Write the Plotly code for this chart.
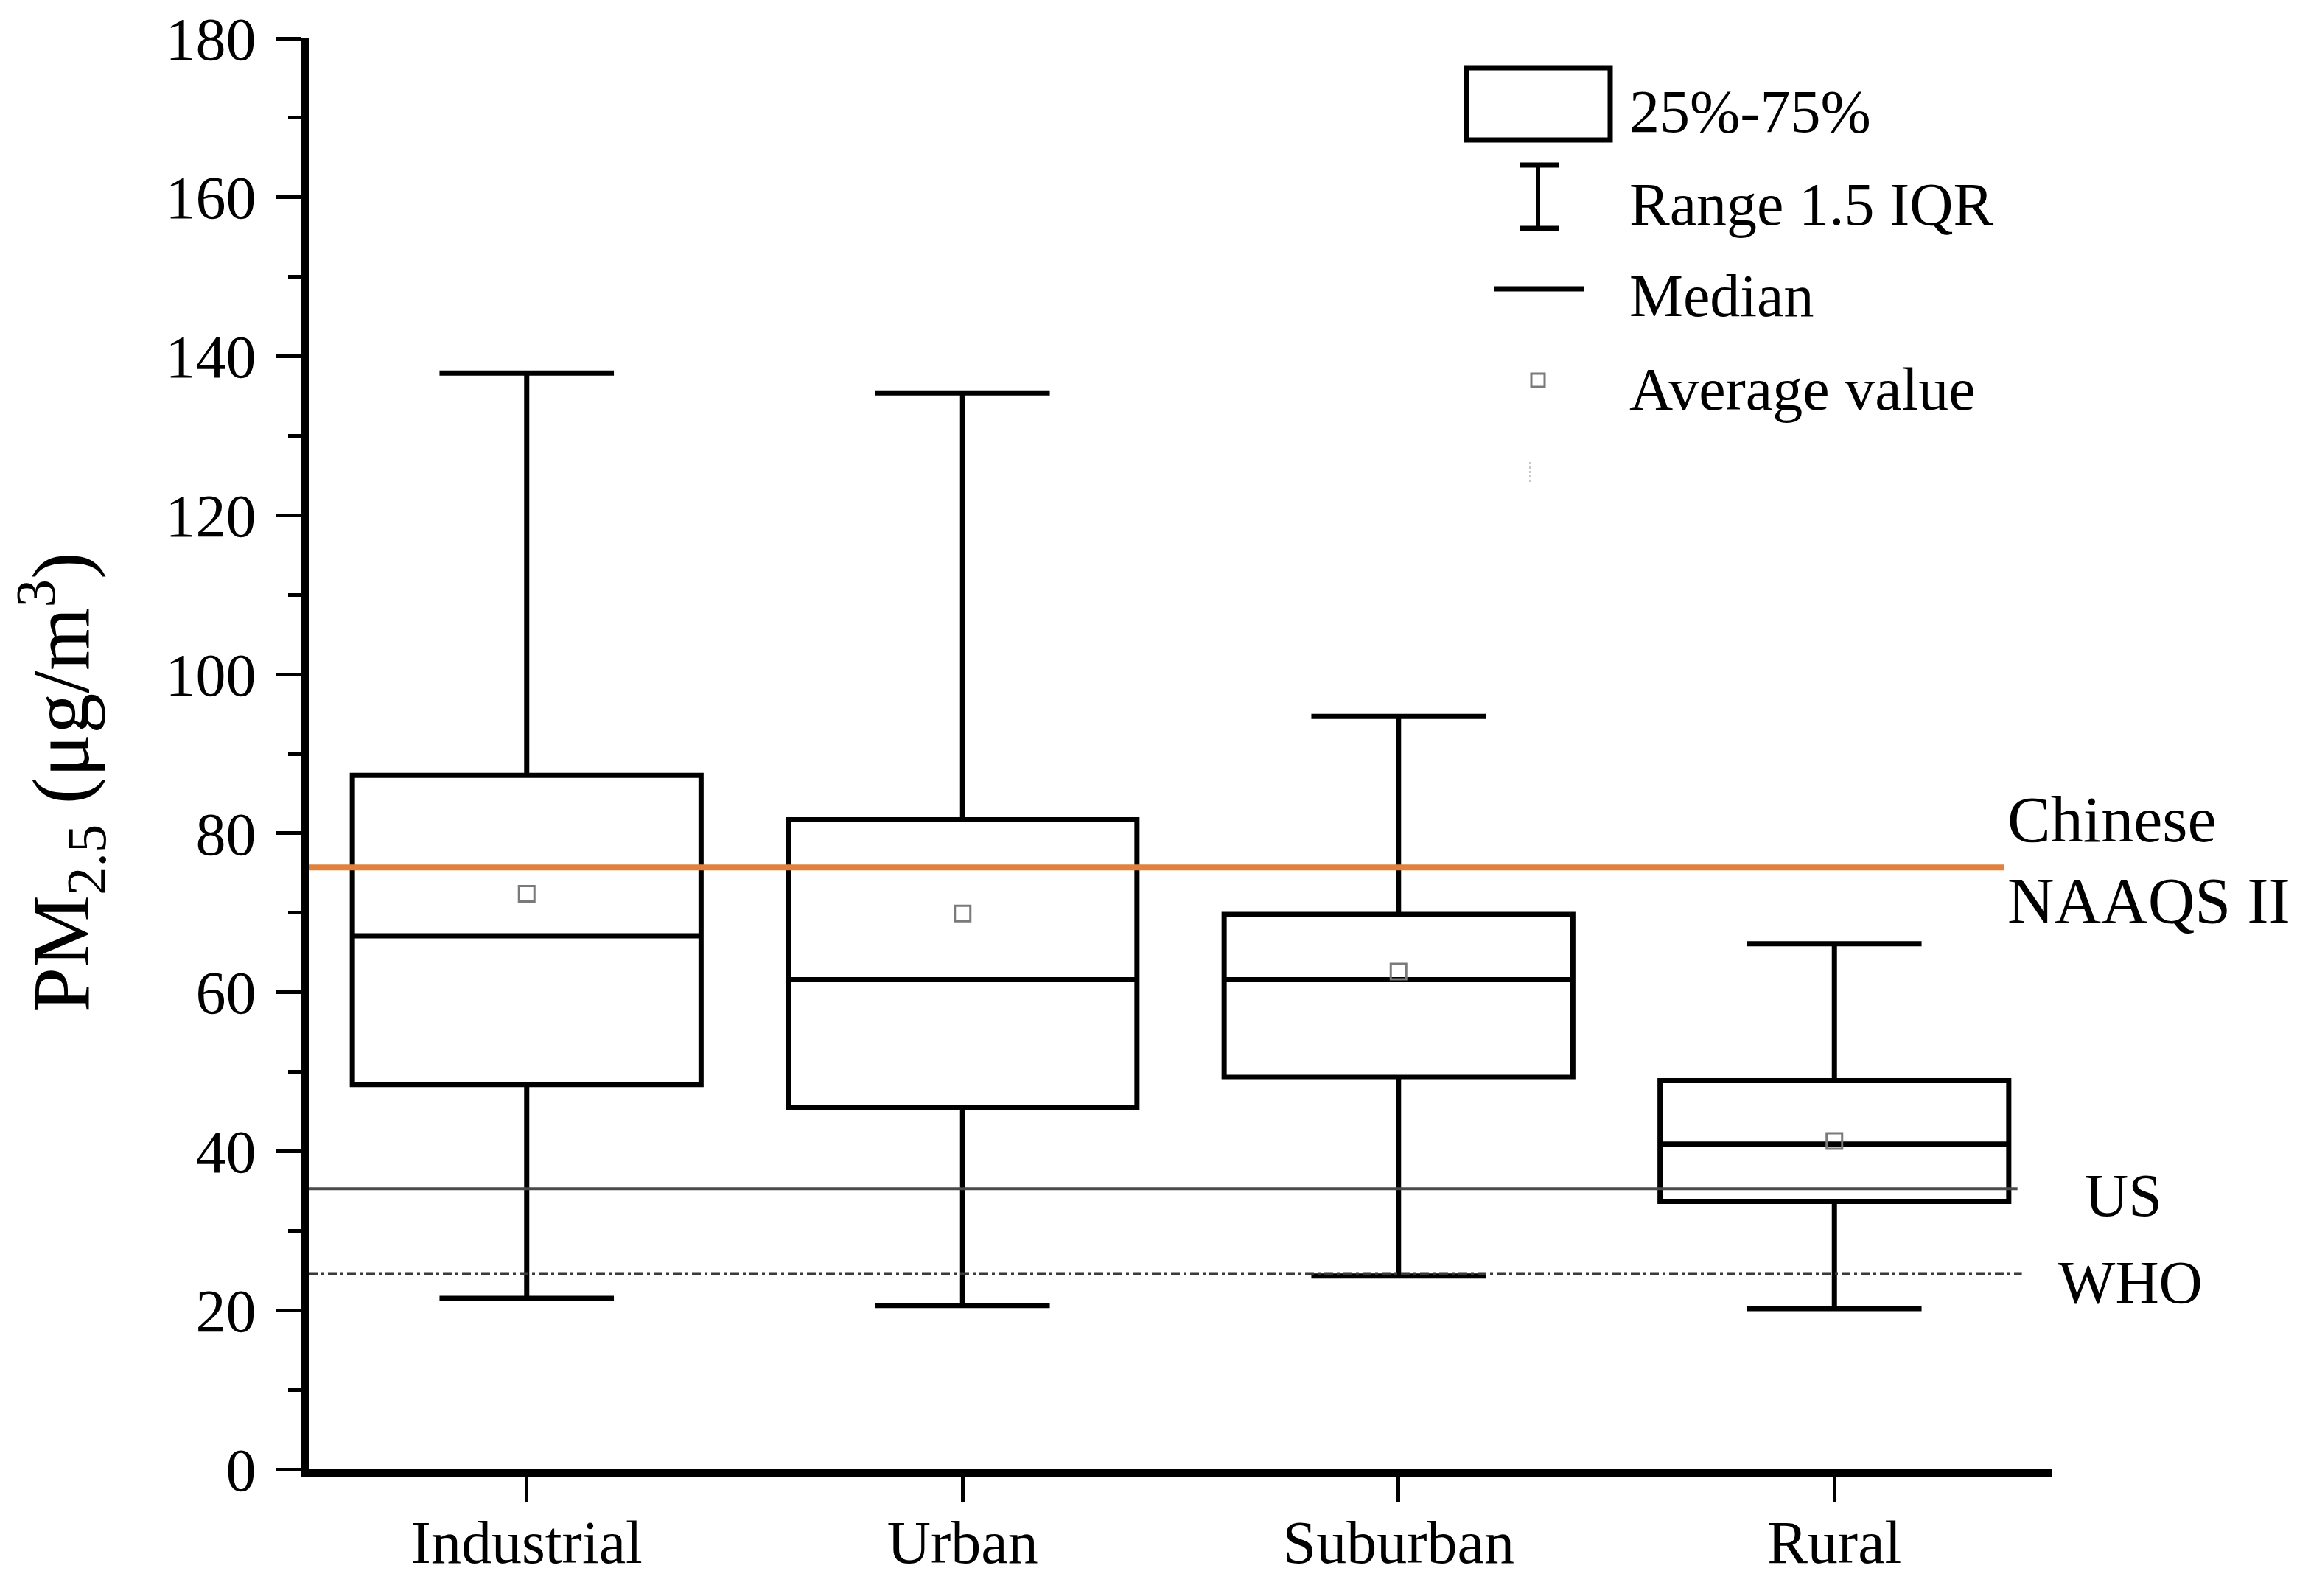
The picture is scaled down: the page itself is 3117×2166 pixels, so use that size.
import plotly.graph_objects as go

# ---------------- data ----------------
categories = ["Industrial", "Urban", "Suburban", "Rural"]
lower_whisker = [21.5, 20.6, 24.3, 20.2]
q1_values = [48.4, 45.5, 49.3, 33.7]
median_values = [67.1, 61.6, 61.6, 40.9]
mean_values = [72.4, 69.9, 62.6, 41.3]
q3_values = [87.3, 81.7, 69.8, 48.9]
upper_whisker = [137.9, 135.4, 94.7, 66.1]

chinese_naaqs_ii = 75.7
us_standard = 35.3
who_guideline = 24.6

y_tick_values = [0, 20, 40, 60, 80, 100, 120, 140, 160, 180]
legend_labels = ["25%-75%", "Range 1.5 IQR", "Median", "Average value"]

# ---------------- layout geometry ----------------
W, H = 3117, 2166
PL, PR, PT, PB = 411, 2777, 44, 1986
OFF = 12  # vertical offset observed in rendering
FONT = "Liberation Serif"


def px(X):
    return (X - PL) / (PR - PL)


def py(Y):
    return (PB - (Y - OFF)) / (PB - PT)


positions = list(range(len(categories)))

fig = go.Figure()

fig.add_trace(go.Box(
    x=positions,
    q1=q1_values,
    median=median_values,
    q3=q3_values,
    lowerfence=lower_whisker,
    upperfence=upper_whisker,
    width=0.8,
    whiskerwidth=0.5,
    boxpoints=False,
    line=dict(color="black", width=7),
    fillcolor="white",
    showlegend=False,
    hoverinfo="skip",
))

fig.add_trace(go.Scatter(
    x=positions,
    y=mean_values,
    mode="markers",
    marker=dict(symbol="square-open", size=21, color="#7a7a7a",
                line=dict(width=3, color="#7a7a7a")),
    showlegend=False,
    hoverinfo="skip",
))

shapes = []
# reference lines
shapes.append(dict(type="line", xref="x", yref="y", x0=-0.5, x1=3.39,
                   y0=chinese_naaqs_ii, y1=chinese_naaqs_ii,
                   line=dict(color="#E2813B", width=8), layer="above"))
shapes.append(dict(type="line", xref="x", yref="y", x0=-0.5, x1=3.42,
                   y0=us_standard, y1=us_standard,
                   line=dict(color="#4a4a4a", width=4), layer="above"))
shapes.append(dict(type="line", xref="x", yref="y", x0=-0.5, x1=3.43,
                   y0=who_guideline, y1=who_guideline,
                   line=dict(color="#3a3a3a", width=4,
                             dash="12px,5px,4px,5px"), layer="above"))

# custom legend glyphs
shapes.append(dict(type="rect", xref="paper", yref="paper",
                   x0=px(1982), x1=px(2177), y0=py(194), y1=py(96),
                   line=dict(color="black", width=7), fillcolor="white"))
shapes.append(dict(type="line", xref="paper", yref="paper",
                   x0=px(2079), x1=px(2079), y0=py(316), y1=py(226),
                   line=dict(color="black", width=6)))
shapes.append(dict(type="line", xref="paper", yref="paper",
                   x0=px(2054), x1=px(2107), y0=py(228), y1=py(228),
                   line=dict(color="black", width=7)))
shapes.append(dict(type="line", xref="paper", yref="paper",
                   x0=px(2054), x1=px(2107), y0=py(314), y1=py(314),
                   line=dict(color="black", width=7)))
shapes.append(dict(type="line", xref="paper", yref="paper",
                   x0=px(2020), x1=px(2141), y0=py(396), y1=py(396),
                   line=dict(color="black", width=7)))
shapes.append(dict(type="rect", xref="paper", yref="paper",
                   x0=px(2070), x1=px(2088), y0=py(529), y1=py(511),
                   line=dict(color="#7a7a7a", width=3)))
shapes.append(dict(type="line", xref="paper", yref="paper",
                   x0=px(2068), x1=px(2068), y0=py(658), y1=py(630),
                   line=dict(color="#c8c8c8", width=2, dash="dot")))

annotations = []
legend_y = [156, 282, 406, 532]
for lab, yy in zip(legend_labels, legend_y):
    annotations.append(dict(xref="paper", yref="paper", x=px(2201), y=py(yy),
                            text=lab, showarrow=False, xanchor="left",
                            yanchor="middle",
                            font=dict(family=FONT, size=82, color="black")))

annotations.append(dict(xref="paper", yref="paper", x=px(2714), y=py(1116),
                        text="Chinese", showarrow=False, xanchor="left",
                        yanchor="middle",
                        font=dict(family=FONT, size=88, color="black")))
annotations.append(dict(xref="paper", yref="paper", x=px(2714), y=py(1226),
                        text="NAAQS II", showarrow=False, xanchor="left",
                        yanchor="middle",
                        font=dict(family=FONT, size=88, color="black")))
annotations.append(dict(xref="paper", yref="paper", x=px(2819), y=py(1626),
                        text="US", showarrow=False, xanchor="left",
                        yanchor="middle",
                        font=dict(family=FONT, size=82, color="black")))
annotations.append(dict(xref="paper", yref="paper", x=px(2783), y=py(1744),
                        text="WHO", showarrow=False, xanchor="left",
                        yanchor="middle",
                        font=dict(family=FONT, size=82, color="black")))

annotations.append(dict(xref="paper", yref="paper", x=px(74), y=py(1066),
                        text="PM<sub>2.5</sub> (μg/m<sup>3</sup>)",
                        showarrow=False, textangle=-90,
                        xanchor="center", yanchor="middle",
                        font=dict(family=FONT, size=110, color="black")))

fig.update_layout(
    width=W, height=H,
    margin=dict(l=PL, r=W - PR, t=PT, b=H - PB, autoexpand=False),
    paper_bgcolor="white", plot_bgcolor="white",
    shapes=shapes, annotations=annotations,
    showlegend=False,
    font=dict(family=FONT, color="black"),
)

fig.update_xaxes(
    range=[-0.5, 3.5],
    tickmode="array", tickvals=positions, ticktext=categories,
    showline=True, linecolor="black", linewidth=10,
    ticks="outside", ticklen=35, tickwidth=5, tickcolor="black",
    showgrid=False, zeroline=False, automargin=False,
    ticklabelstandoff=-16, ticklabeloverflow="allow",
    tickfont=dict(family=FONT, size=82, color="black"),
)

fig.update_yaxes(
    range=[0, 180],
    tickmode="array", tickvals=y_tick_values,
    showline=True, linecolor="black", linewidth=10,
    ticks="outside", ticklen=35, tickwidth=5, tickcolor="black",
    minor=dict(dtick=10, ticks="outside", ticklen=18, tickwidth=5,
               tickcolor="black", showgrid=False),
    showgrid=False, zeroline=False, automargin=False,
    ticklabelstandoff=10, ticklabeloverflow="allow",
    tickfont=dict(family=FONT, size=82, color="black"),
)

fig.write_html("out.html")
